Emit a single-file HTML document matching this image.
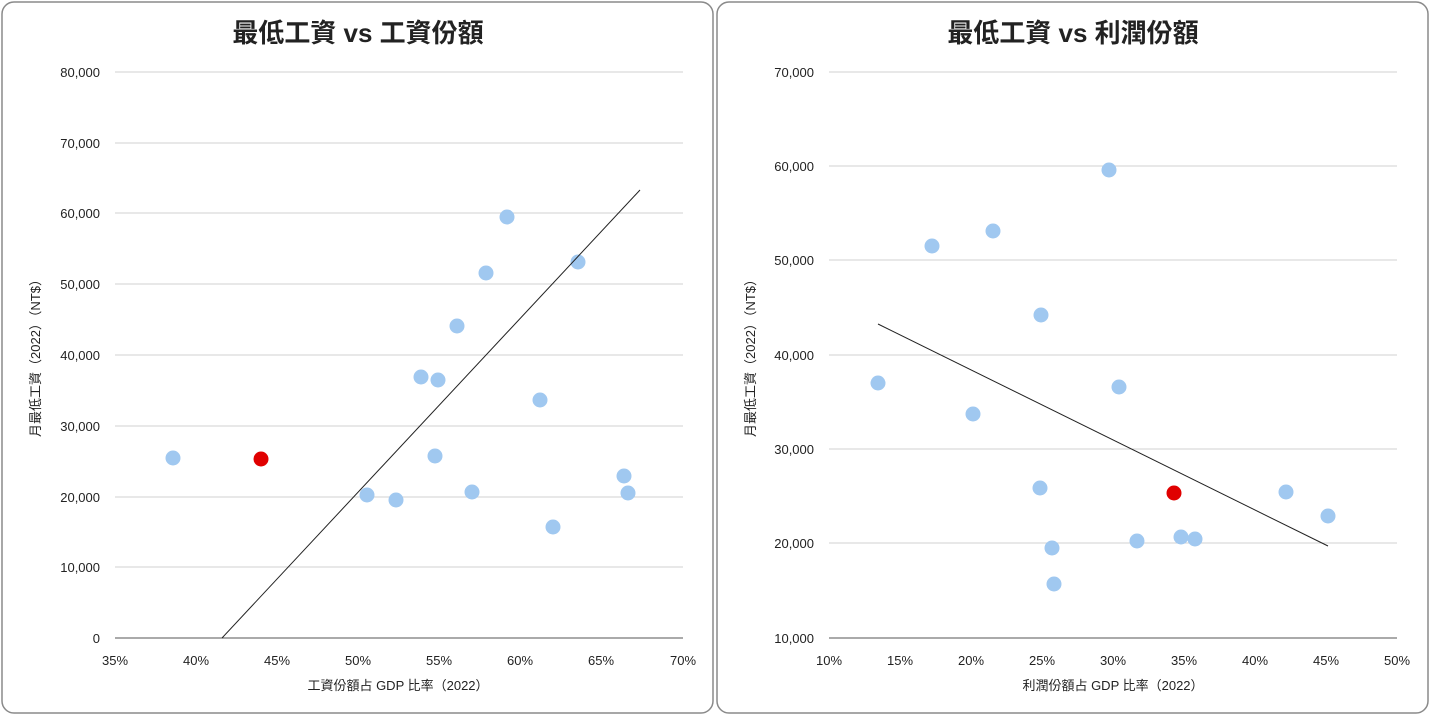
<!DOCTYPE html>
<html><head><meta charset="utf-8"><style>
body{margin:0;background:#fff;}
svg{display:block;}
text{font-family:"Liberation Sans","Noto Sans CJK TC",sans-serif;fill:#222;}
.t{font-size:26px;font-weight:bold;}
.k{font-size:13px;}
</style></head><body>
<svg width="1430" height="715" xmlns="http://www.w3.org/2000/svg">
<rect x="2" y="2" width="711" height="711" rx="12" fill="#fff" stroke="#8a8a8a" stroke-width="1.5"/>
<rect x="717" y="2" width="711" height="711" rx="12" fill="#fff" stroke="#8a8a8a" stroke-width="1.5"/>
<text class="t" x="358" y="42" text-anchor="middle">最低工資 vs 工資份額</text>
<text class="t" x="1073" y="42" text-anchor="middle">最低工資 vs 利潤份額</text>
<g stroke="#d0d0d0" stroke-width="1">
<line x1="115" x2="683" y1="72" y2="72"/><line x1="115" x2="683" y1="143" y2="143"/><line x1="115" x2="683" y1="213" y2="213"/><line x1="115" x2="683" y1="284" y2="284"/><line x1="115" x2="683" y1="355" y2="355"/><line x1="115" x2="683" y1="426" y2="426"/><line x1="115" x2="683" y1="497" y2="497"/><line x1="115" x2="683" y1="567" y2="567"/>
<line x1="829" x2="1397" y1="72" y2="72"/><line x1="829" x2="1397" y1="166" y2="166"/><line x1="829" x2="1397" y1="260" y2="260"/><line x1="829" x2="1397" y1="355" y2="355"/><line x1="829" x2="1397" y1="449" y2="449"/><line x1="829" x2="1397" y1="543" y2="543"/>
</g>
<g stroke="#555" stroke-width="1"><line x1="115" x2="683" y1="638" y2="638"/><line x1="829" x2="1397" y1="638" y2="638"/></g>
<g class="k" text-anchor="end">
<text x="100" y="77">80,000</text><text x="100" y="148">70,000</text><text x="100" y="218">60,000</text><text x="100" y="289">50,000</text><text x="100" y="360">40,000</text><text x="100" y="431">30,000</text><text x="100" y="502">20,000</text><text x="100" y="572">10,000</text><text x="100" y="643">0</text>
<text x="814" y="77">70,000</text><text x="814" y="171">60,000</text><text x="814" y="265">50,000</text><text x="814" y="360">40,000</text><text x="814" y="454">30,000</text><text x="814" y="548">20,000</text><text x="814" y="643">10,000</text>
</g>
<g class="k" text-anchor="middle">
<text x="115" y="665">35%</text><text x="196" y="665">40%</text><text x="277" y="665">45%</text><text x="358" y="665">50%</text><text x="439" y="665">55%</text><text x="520" y="665">60%</text><text x="601" y="665">65%</text><text x="683" y="665">70%</text>
<text x="829" y="665">10%</text><text x="900" y="665">15%</text><text x="971" y="665">20%</text><text x="1042" y="665">25%</text><text x="1113" y="665">30%</text><text x="1184" y="665">35%</text><text x="1255" y="665">40%</text><text x="1326" y="665">45%</text><text x="1397" y="665">50%</text>
<text x="398" y="690">工資份額占 GDP 比率（2022）</text>
<text x="1113" y="690">利潤份額占 GDP 比率（2022）</text>
<text transform="translate(40,355) rotate(-90)">月最低工資（2022）（NT$）</text>
<text transform="translate(755,355) rotate(-90)">月最低工資（2022）（NT$）</text>
</g>
<g fill="#a0c8f0">
<circle cx="173" cy="458" r="7.5"/><circle cx="367" cy="495" r="7.5"/><circle cx="396" cy="500" r="7.5"/><circle cx="421" cy="377" r="7.5"/><circle cx="438" cy="380" r="7.5"/><circle cx="435" cy="456" r="7.5"/><circle cx="457" cy="326" r="7.5"/><circle cx="486" cy="273" r="7.5"/><circle cx="507" cy="217" r="7.5"/><circle cx="472" cy="492" r="7.5"/><circle cx="540" cy="400" r="7.5"/><circle cx="553" cy="527" r="7.5"/><circle cx="578" cy="262" r="7.5"/><circle cx="624" cy="476" r="7.5"/><circle cx="628" cy="493" r="7.5"/>
<circle cx="878" cy="383" r="7.5"/><circle cx="932" cy="246" r="7.5"/><circle cx="993" cy="231" r="7.5"/><circle cx="973" cy="414" r="7.5"/><circle cx="1041" cy="315" r="7.5"/><circle cx="1109" cy="170" r="7.5"/><circle cx="1119" cy="387" r="7.5"/><circle cx="1040" cy="488" r="7.5"/><circle cx="1052" cy="548" r="7.5"/><circle cx="1054" cy="584" r="7.5"/><circle cx="1137" cy="541" r="7.5"/><circle cx="1181" cy="537" r="7.5"/><circle cx="1195" cy="539" r="7.5"/><circle cx="1286" cy="492" r="7.5"/><circle cx="1328" cy="516" r="7.5"/>
</g>
<g fill="#e00000"><circle cx="261" cy="459" r="7.5"/><circle cx="1174" cy="493" r="7.5"/></g>
<g stroke="#222" stroke-width="1"><line x1="222" y1="638" x2="640" y2="190"/><line x1="878" y1="324" x2="1328" y2="546"/></g>
</svg>
</body></html>
